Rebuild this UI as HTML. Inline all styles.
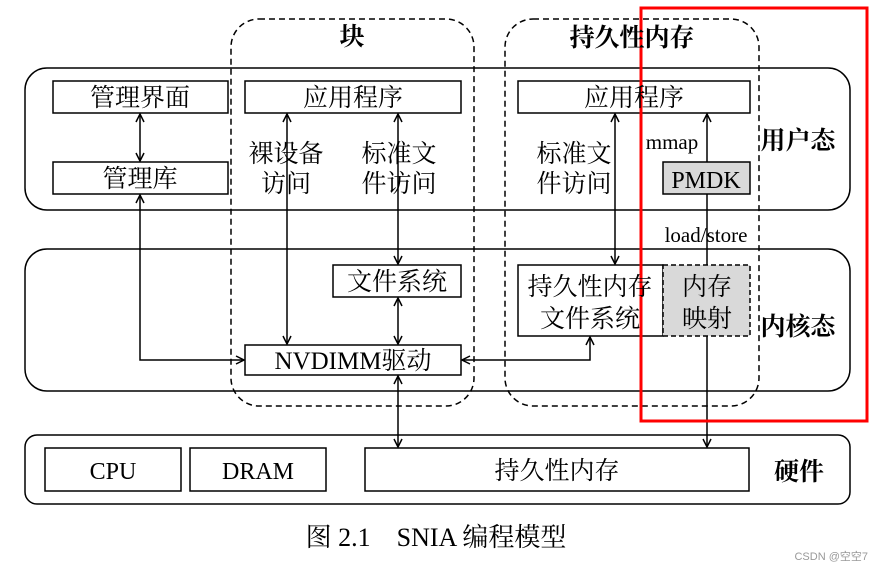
<!DOCTYPE html>
<html><head><meta charset="utf-8"><style>
html,body{margin:0;padding:0;background:#fff;}
svg{display:block;}
text{font-family:"Liberation Serif","Noto Serif CJK SC",serif;fill:#000;}
.b{font-family:"Liberation Sans","Noto Sans CJK SC",sans-serif;font-weight:bold;}
</style></head><body>
<svg width="883" height="570" viewBox="0 0 883 570" xmlns="http://www.w3.org/2000/svg">
<defs>
<marker id="a" viewBox="0 0 10 10" refX="9" refY="5" markerWidth="10" markerHeight="10" orient="auto-start-reverse" markerUnits="userSpaceOnUse">
<path d="M1,1 L9,5 L1,9" fill="none" stroke="#000" stroke-width="1.5"/></marker>
</defs>
<g fill="none" stroke="#000" stroke-width="1.5">
<rect x="25" y="68" width="825" height="142" rx="22"/>
<rect x="25" y="249" width="825" height="142" rx="22"/>
<rect x="25" y="435" width="825" height="69" rx="12"/>
<rect x="231" y="19" width="243" height="387" rx="28" stroke-dasharray="6,4"/>
<rect x="505" y="19" width="254" height="387" rx="28" stroke-dasharray="6,4"/>
<rect x="53" y="81" width="175" height="32"/>
<rect x="53" y="162" width="175" height="32"/>
<rect x="245" y="81" width="216" height="32"/>
<rect x="333" y="265" width="128" height="32"/>
<rect x="245" y="345" width="216" height="30"/>
<rect x="518" y="81" width="232" height="32"/>
<rect x="663" y="162" width="87" height="32" fill="#d9d9d9"/>
<rect x="518" y="265" width="145" height="71"/>
<rect x="663" y="265" width="87" height="71" fill="#d9d9d9" stroke-dasharray="5,3"/>
<rect x="45" y="448" width="136" height="43"/>
<rect x="190" y="448" width="136" height="43"/>
<rect x="365" y="448" width="384" height="43"/>
</g>
<g fill="none" stroke="#000" stroke-width="1.5">
<line x1="140" y1="114" x2="140" y2="161" marker-start="url(#a)" marker-end="url(#a)"/>
<polyline points="140,195 140,360 244,360" marker-start="url(#a)" marker-end="url(#a)"/>
<line x1="287" y1="114" x2="287" y2="344" marker-start="url(#a)" marker-end="url(#a)"/>
<line x1="398" y1="114" x2="398" y2="264" marker-start="url(#a)" marker-end="url(#a)"/>
<line x1="398" y1="298" x2="398" y2="344" marker-start="url(#a)" marker-end="url(#a)"/>
<line x1="615" y1="114" x2="615" y2="264" marker-start="url(#a)" marker-end="url(#a)"/>
<polyline points="462,360 590,360 590,337" marker-start="url(#a)" marker-end="url(#a)"/>
<line x1="398" y1="376" x2="398" y2="447" marker-start="url(#a)" marker-end="url(#a)"/>
<line x1="707" y1="162" x2="707" y2="114" marker-end="url(#a)"/>
<line x1="707" y1="194" x2="707" y2="265"/>
<line x1="707" y1="336" x2="707" y2="447" marker-end="url(#a)"/>
</g>
<rect x="641" y="8" width="226" height="413" fill="none" stroke="#f00" stroke-width="3"/>
<g font-size="25" text-anchor="middle">
<text x="140" y="106">管理界面</text>
<text x="140" y="187">管理库</text>
<text x="353" y="106">应用程序</text>
<text x="634" y="106">应用程序</text>
<text x="286" y="162">裸设备</text>
<text x="286" y="192">访问</text>
<text x="399" y="162">标准文</text>
<text x="399" y="192">件访问</text>
<text x="574" y="162">标准文</text>
<text x="574" y="192">件访问</text>
<text x="397" y="290">文件系统</text>
<text x="353" y="369">NVDIMM驱动</text>
<text x="590" y="295">持久性内存</text>
<text x="590" y="327">文件系统</text>
<text x="707" y="295">内存</text>
<text x="707" y="327">映射</text>
<text x="706" y="188" font-size="24">PMDK</text>
<text x="672" y="149" font-size="21">mmap</text>
<text x="706" y="242" font-size="21">load/store</text>
<text x="113" y="479" font-size="24">CPU</text>
<text x="258" y="479" font-size="24">DRAM</text>
<text x="557" y="479">持久性内存</text>
<text x="436" y="546" font-size="26" fill="#222">图 2.1　SNIA 编程模型</text>
</g>
<g font-size="25" class="b" text-anchor="middle">
<text x="352" y="45">块</text>
<text x="632" y="46">持久性内存</text>
<text x="798" y="149">用户态</text>
<text x="798" y="335">内核态</text>
<text x="799" y="480">硬件</text>
</g>
<text x="868" y="560" font-size="11" text-anchor="end" style="font-family:'Liberation Sans','Noto Sans CJK SC',sans-serif;fill:#999">CSDN @空空7</text>
</svg>
</body></html>
